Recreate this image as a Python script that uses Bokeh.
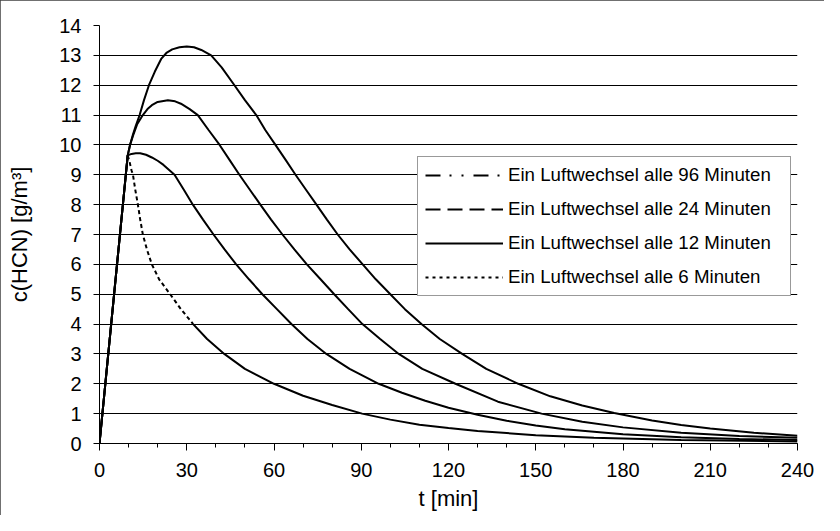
from bokeh.plotting import figure
from bokeh.models import Range1d, SingleIntervalTicker, Legend, LegendItem
from bokeh.embed import file_html
from bokeh.resources import INLINE

# ---- data ----
t_96 = [0, 5, 9.7, 10.5, 11.5, 12.5, 13.8, 15.3, 17, 19, 21.2, 23, 25, 27.5, 30, 32.5, 35,
        38.4, 42, 46.4, 50, 53.9, 57, 60.5, 64, 67.4, 71, 74.6, 78.2, 81.9, 86, 90.5, 95,
        100, 105, 110.7, 117, 124.7, 133, 144, 155, 166, 177, 190, 200, 210, 225, 240]
c_96 = [0, 4.98, 9.65, 10.0, 10.35, 10.65, 11.0, 11.5, 12.0, 12.45, 12.88, 13.08, 13.2,
        13.27, 13.3, 13.27, 13.18, 13.0, 12.6, 12.0, 11.5, 11.0, 10.5, 10.0, 9.5, 9.0, 8.5,
        8.0, 7.5, 7.0, 6.5, 6.0, 5.5, 5.0, 4.5, 4.0, 3.5, 3.0, 2.5, 2.0, 1.58, 1.27, 1.02,
        0.77, 0.62, 0.5, 0.36, 0.26]

t_24 = [0, 5, 9.7, 10.5, 11.5, 13, 14.9, 16.5, 18, 20, 23.5, 26, 28, 31, 33.8, 37.5, 41.3,
        44.7, 48.1, 51.7, 55.3, 59, 62.9, 67, 71.3, 76, 80.7, 85.5, 90.4, 96.5, 102.9, 111,
        122.4, 137, 152, 166, 180, 200, 220, 240]
c_24 = [0, 4.98, 9.65, 10.0, 10.3, 10.7, 11.0, 11.2, 11.33, 11.44, 11.5, 11.46, 11.38,
        11.2, 11.0, 10.5, 10.0, 9.5, 9.0, 8.5, 8.0, 7.5, 7.0, 6.5, 6.0, 5.5, 5.0, 4.5, 4.0,
        3.5, 3.0, 2.5, 2.0, 1.4, 1.0, 0.73, 0.54, 0.36, 0.25, 0.19]

t_12 = [0, 5, 9.7, 11, 12.5, 14, 16, 18, 20, 22, 25.8, 29, 32.1, 35.6, 39.2, 43, 47, 51.4,
        56, 61, 66, 71.5, 78, 86, 96, 104, 112, 120, 130, 140, 150, 160, 180, 200, 220, 240]
c_12 = [0, 4.98, 9.65, 9.7, 9.72, 9.72, 9.67, 9.58, 9.47, 9.33, 9.0, 8.5, 8.0, 7.5, 7.0,
        6.5, 6.0, 5.5, 5.0, 4.5, 4.0, 3.5, 3.0, 2.5, 2.0, 1.7, 1.43, 1.2, 0.96, 0.76, 0.6,
        0.48, 0.31, 0.21, 0.15, 0.12]

t_6 = [0, 5, 9.7, 10.3, 11, 11.5, 12.3, 13.2, 14, 14.9, 16.3, 18, 20.5, 24.3, 28, 32.2, 37,
       42.9, 50, 60, 70, 80, 90.3, 100, 110, 120, 130, 140, 150, 170, 200, 240]
c_6 = [0, 4.98, 9.65, 9.45, 9.15, 9.0, 8.5, 8.0, 7.5, 7.0, 6.5, 6.0, 5.5, 5.0, 4.5, 4.0,
       3.5, 3.0, 2.5, 2.0, 1.6, 1.29, 1.0, 0.8, 0.63, 0.52, 0.42, 0.35, 0.28, 0.19, 0.12,
       0.07]

legend_labels = ["Ein Luftwechsel alle 96 Minuten", "Ein Luftwechsel alle 24 Minuten",
                 "Ein Luftwechsel alle 12 Minuten", "Ein Luftwechsel alle 6 Minuten"]
legend_dashes = ["15 9 2 10 2 10", "15 7", "solid", "3 4"]

x_label = "t [min]"
y_label = "c(HCN) [g/m³]"

FONT = "Liberation Sans"

p = figure(width=824, height=515, output_backend="svg", toolbar_location=None,
           x_range=Range1d(0, 240), y_range=Range1d(0, 14),
           min_border_left=99, min_border_right=27, min_border_top=25, min_border_bottom=72)
p.styles = {"outline": "1px solid #404040", "outline-offset": "-1px"}
p.background_fill_color = "white"
p.border_fill_color = "white"
p.outline_line_color = None

# axes
p.xaxis.ticker = SingleIntervalTicker(interval=30, num_minor_ticks=3)
p.yaxis.ticker = SingleIntervalTicker(interval=1, num_minor_ticks=0)
for ax in (p.xaxis, p.yaxis):
    ax.axis_line_color = "black"
    ax.axis_line_width = 1
    ax.major_tick_line_color = "black"
    ax.major_tick_in = 0
    ax.minor_tick_in = 0
    ax.major_label_text_font = FONT
    ax.major_label_text_font_size = "20px"
    ax.major_label_text_color = "black"
    ax.axis_label_text_font = FONT
    ax.axis_label_text_font_size = "22px"
    ax.axis_label_text_font_style = "normal"
    ax.axis_label_text_color = "black"
p.xaxis.major_tick_out = 7
p.xaxis.minor_tick_out = 4
p.xaxis.minor_tick_line_color = "black"
p.xaxis.major_label_standoff = 12
p.xaxis.axis_label_standoff = 6
p.xaxis.axis_label = x_label
p.yaxis.major_tick_out = 6
p.yaxis.minor_tick_line_color = None
p.yaxis.major_label_standoff = 12
p.yaxis.axis_label_standoff = 24
p.yaxis.axis_label = y_label

p.xgrid.grid_line_color = None
p.ygrid.grid_line_color = "black"
p.ygrid.grid_line_width = 1
p.ygrid.ticker = p.yaxis.ticker

# curves (drawn solid, as in the picture)
lw = 2
p.line(t_96, c_96, line_color="black", line_width=lw)
p.line(t_24, c_24, line_color="black", line_width=lw)
p.line(t_12, c_12, line_color="black", line_width=lw)
# 6-minute curve: steep part appears dotted, flat tail appears solid
i0 = t_6.index(9.7)
i1 = t_6.index(32.2)
p.line(t_6[:i0 + 1], c_6[:i0 + 1], line_color="black", line_width=lw)
p.line(t_6[i0:i1 + 1], c_6[i0:i1 + 1], line_color="black", line_width=lw, line_dash="4 3")
p.line(t_6[i1:], c_6[i1:], line_color="black", line_width=lw)

# legend entries with their line styles (invisible placeholder points)
nan = float("nan")
items = []
for lab, dash in zip(legend_labels, legend_dashes):
    r = p.line(x=[nan, nan], y=[nan, nan], line_color="black", line_width=2, line_dash=dash)
    items.append(LegendItem(label=lab, renderers=[r]))

legend = Legend(items=items, location=(318, 147),
                label_text_font=FONT, label_text_font_size="18.7px", label_text_color="black",
                label_height=22, glyph_height=22, glyph_width=78, label_standoff=5,
                label_width=275, spacing=12, padding=7,
                border_line_color="#333333", border_line_width=1,
                background_fill_color="white", background_fill_alpha=1.0)
p.add_layout(legend, "center")

open("out.html", "w").write(file_html(p, INLINE))
